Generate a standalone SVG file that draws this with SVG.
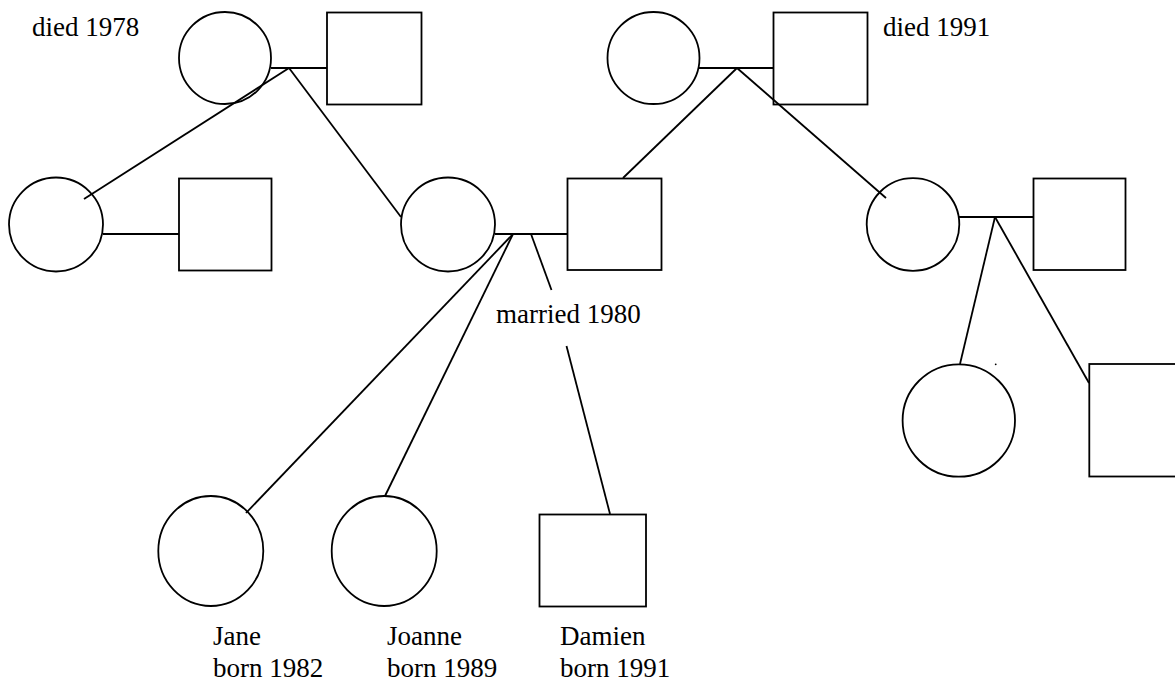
<svg xmlns="http://www.w3.org/2000/svg" width="1175" height="682" viewBox="0 0 1175 682">
<style>
.n{fill:none;stroke:#000;stroke-width:1.8}
.c line{stroke:#000;stroke-width:1.8}
.t{font-family:'Liberation Serif','DejaVu Serif',serif;font-size:27px;fill:#000}
</style>
<rect width="1175" height="682" fill="#fff"/>
<g id="connectors" class="c">
<line x1="271" y1="68" x2="327" y2="68"/>
<line x1="289" y1="68" x2="84" y2="199"/>
<line x1="289" y1="68" x2="401" y2="217"/>
<line x1="103" y1="234" x2="179" y2="234"/>
<line x1="699" y1="68" x2="773" y2="68"/>
<line x1="737" y1="68" x2="623" y2="178"/>
<line x1="737" y1="68" x2="886" y2="198"/>
<line x1="495" y1="234" x2="567" y2="234"/>
<line x1="513" y1="234" x2="246" y2="513"/>
<line x1="513" y1="234" x2="385" y2="496"/>
<line x1="531" y1="234" x2="551.5" y2="290"/>
<line x1="566.5" y1="346" x2="610" y2="514"/>
<line x1="959" y1="217" x2="1033" y2="217"/>
<line x1="995" y1="217" x2="960" y2="364"/>
<line x1="995" y1="217" x2="1089" y2="383"/>
</g>
<g id="n1"><circle class="n" cx="225" cy="58" r="46"/></g>
<g id="n2"><rect class="n" x="327" y="12.5" width="94.5" height="92"/></g>
<g id="n3"><circle class="n" cx="653.5" cy="58" r="46"/></g>
<g id="n4"><rect class="n" x="773.5" y="12.5" width="94" height="92"/></g>
<g id="n5"><circle class="n" cx="56" cy="224.5" r="47"/></g>
<g id="n6"><rect class="n" x="179" y="178.5" width="92.5" height="92"/></g>
<g id="n7"><circle class="n" cx="448" cy="224.5" r="47"/></g>
<g id="n8"><rect class="n" x="567.5" y="178.5" width="94" height="91.5"/></g>
<g id="n9"><circle class="n" cx="913" cy="224.5" r="46.3"/></g>
<g id="n10"><rect class="n" x="1033.5" y="178.5" width="92" height="91.5"/></g>
<g id="n11"><ellipse class="n" cx="210.8" cy="551" rx="52.5" ry="55"/></g>
<g id="n12"><ellipse class="n" cx="384.2" cy="551" rx="52.5" ry="55"/></g>
<g id="n13"><rect class="n" x="539.5" y="514.5" width="106.5" height="92"/></g>
<g id="n14"><circle class="n" cx="958.8" cy="420.5" r="56.2"/></g>
<g id="n15"><rect class="n" x="1089.3" y="364" width="100" height="112.5"/></g>
<circle cx="995.7" cy="364.3" r="0.9" fill="#000"/>
<g class="t">
<text x="32" y="36">died 1978</text>
<text x="883" y="36">died 1991</text>
<text x="496" y="323">married 1980</text>
<text x="213" y="645">Jane</text>
<text x="213" y="677">born 1982</text>
<text x="387" y="645">Joanne</text>
<text x="387" y="677">born 1989</text>
<text x="560" y="645">Damien</text>
<text x="560" y="677">born 1991</text>
</g>
</svg>
